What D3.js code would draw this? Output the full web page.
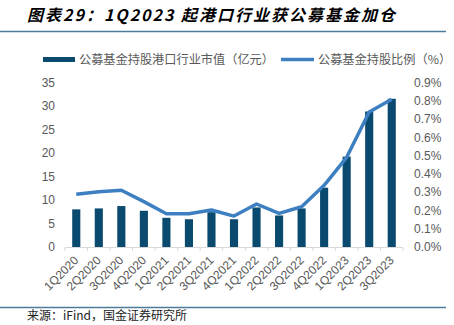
<!DOCTYPE html>
<html><head><meta charset="utf-8">
<script src="https://cdn.jsdelivr.net/npm/d3@7"></script>
<style>body{margin:0;background:#fff;}svg{display:block;}</style>
</head><body>
<svg id="c" width="454" height="325"></svg>
<script>
const categories = ["1Q2020","2Q2020","3Q2020","4Q2020","1Q2021","2Q2021","3Q2021","4Q2021","1Q2022","2Q2022","3Q2022","4Q2022","1Q2023","2Q2023","3Q2023"];
const marketValue = [8.0,8.2,8.7,7.7,6.2,5.9,7.4,5.9,8.4,6.7,8.2,12.6,19.2,28.8,31.5];
const holdingRatio = [0.288,0.302,0.310,0.248,0.182,0.182,0.202,0.169,0.235,0.184,0.220,0.337,0.490,0.738,0.807];
const leftTicks = [0,5,10,15,20,25,30,35];
const rightTicks = [0,0.1,0.2,0.3,0.4,0.5,0.6,0.7,0.8,0.9];
const seriesNames = ["公募基金持股港口行业市值（亿元）","公募基金持股比例（%）"];
const titleText = "图表29：1Q2023 起港口行业获公募基金加仓";
const sourceText = "来源：iFind，国金证券研究所";

const svg = d3.select("#c");
const font = "'Noto Sans CJK SC','Noto Sans',sans-serif";
const numFont = "'Liberation Sans','Noto Sans',sans-serif";
const barColor = "#0b4a6f", lineColor = "#3d7fc1", textColor = "#595959";

svg.append("text").attr("x",27).attr("y",21).attr("font-family",font)
  .attr("font-size",16).attr("letter-spacing",2).attr("font-weight","bold").attr("font-style","italic")
  .attr("fill","#000").text(titleText);
svg.append("line").attr("x1",0).attr("x2",446).attr("y1",31.5).attr("y2",31.5)
  .attr("stroke","#4d7b99").attr("stroke-width",1.5);
svg.append("line").attr("x1",0).attr("x2",446).attr("y1",307.5).attr("y2",307.5)
  .attr("stroke","#4d7b99").attr("stroke-width",1.5);
svg.append("text").attr("x",27).attr("y",320).attr("font-family",font)
  .attr("font-size",12).attr("fill","#222").text(sourceText);

const x = d3.scaleBand().domain(categories).range([65,403]).paddingInner(0.64).paddingOuter(0.32);
const yL = d3.scaleLinear().domain([0,35]).range([247,82.3]);
const yR = d3.scaleLinear().domain([0,0.9]).range([247,82.3]);

// legend
const lg = svg.append("g").attr("font-family",font).attr("font-size",12.2).attr("fill",textColor);
lg.append("rect").attr("x",43).attr("y",57).attr("width",32).attr("height",5).attr("fill",barColor);
lg.append("text").attr("x",79).attr("y",64).text(seriesNames[0]);
lg.append("line").attr("x1",281).attr("x2",314).attr("y1",59.5).attr("y2",59.5).attr("stroke",lineColor).attr("stroke-width",3.5);
lg.append("text").attr("x",318).attr("y",64).text(seriesNames[1]);

// bars
svg.append("g").selectAll("rect").data(categories).join("rect")
  .attr("x",d=>x(d)).attr("width",x.bandwidth())
  .attr("y",(d,i)=>yL(marketValue[i])).attr("height",(d,i)=>yL(0)-yL(marketValue[i]))
  .attr("fill",barColor);

// line
const line = d3.line().x((d,i)=>x(categories[i])+x.bandwidth()/2).y(d=>yR(d));
svg.append("path").datum(holdingRatio).attr("d",line).attr("fill","none")
  .attr("stroke",lineColor).attr("stroke-width",3.5).attr("stroke-linejoin","round");

// x axis
const edges = d3.range(categories.length+1).map(i=>65+i*(338/categories.length));
const xa = svg.append("g");
xa.append("line").attr("x1",65).attr("x2",403).attr("y1",247.5).attr("y2",247.5).attr("stroke","#d9d9d9").attr("stroke-width",1);
xa.selectAll("line.t").data(edges).join("line").attr("class","t")
  .attr("x1",d=>d).attr("x2",d=>d).attr("y1",247.5).attr("y2",251).attr("stroke","#d9d9d9");
xa.selectAll("text").data(categories).join("text")
  .attr("font-family",numFont).attr("font-size",12).attr("fill",textColor)
  .attr("text-anchor","end")
  .attr("transform",d=>`translate(${x(d)+x.bandwidth()/2+3},${261}) rotate(-45)`)
  .text(d=>d);

// left axis
const la = svg.append("g").attr("transform","translate(55,0)")
  .call(d3.axisLeft(yL).tickValues(leftTicks).tickSize(0).tickPadding(0));
la.select(".domain").remove();
la.selectAll("text").attr("font-family",numFont).attr("font-size",12).attr("fill",textColor);

// right axis
const ra = svg.append("g").attr("transform","translate(414,0)")
  .call(d3.axisRight(yR).tickValues(rightTicks).tickSize(0).tickPadding(0).tickFormat(d=>d.toFixed(1)+"%"));
ra.select(".domain").remove();
ra.selectAll("text").attr("font-family",numFont).attr("font-size",12).attr("fill",textColor);
</script>
</body></html>
